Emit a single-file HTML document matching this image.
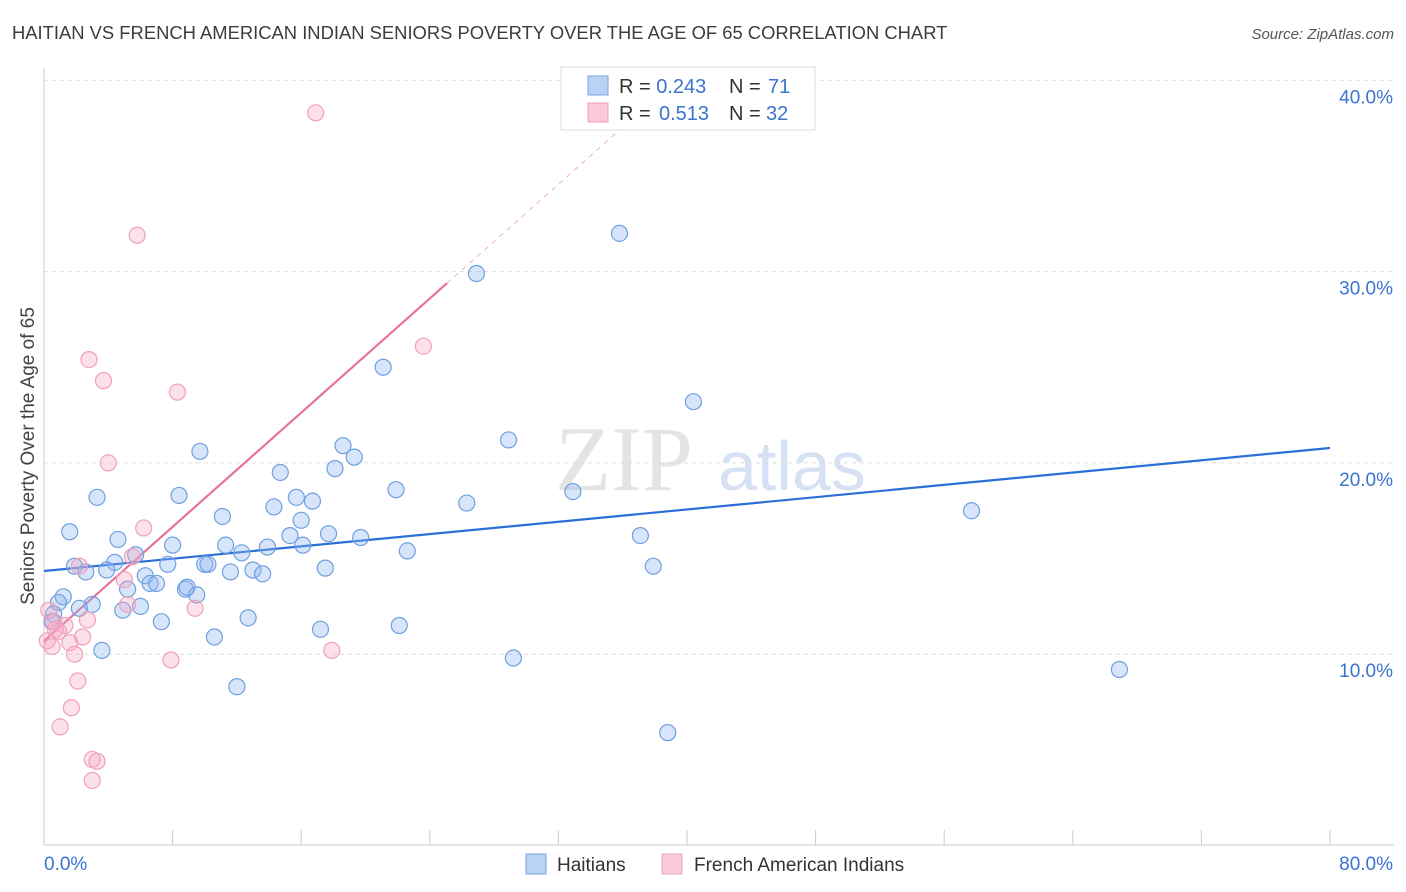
<!DOCTYPE html>
<html><head><meta charset="utf-8"><style>
body{margin:0;background:#fff;font-family:"Liberation Sans",sans-serif;}
svg{display:block}
</style></head><body>
<svg id="chart" width="1406" height="892" xmlns="http://www.w3.org/2000/svg">
<text x="12" y="39" font-size="18.4" fill="#3c3c3c">HAITIAN VS FRENCH AMERICAN INDIAN SENIORS POVERTY OVER THE AGE OF 65 CORRELATION CHART</text>
<text x="1394" y="39" font-size="15" font-style="italic" fill="#555" text-anchor="end">Source: ZipAtlas.com</text>
<g><text x="555" y="490" font-size="92" font-family="Liberation Serif,serif" fill="#e4e4e4">ZIP</text><text x="718" y="490" font-size="70" fill="#d6e2f4">atlas</text></g>
<g id="grid"></g><g id="axes"></g><g id="lines"></g><g id="pts"></g>
<text transform="translate(34,456) rotate(-90)" font-size="19" fill="#444" text-anchor="middle">Seniors Poverty Over the Age of 65</text>
<g>
<rect x="561" y="67" width="254" height="63" fill="#fff" stroke="#ddd"/>
<rect x="588" y="76" width="20" height="19" fill="#b9d3f5" stroke="#7aa6e4"/>
<rect x="588" y="103" width="20" height="19" fill="#fac8d7" stroke="#f0a0bb"/>
<text x="619" y="93" font-size="20" fill="#333">R = <tspan fill="#3a73d0">0.243</tspan><tspan x="729">N = </tspan><tspan x="768" fill="#3a73d0">71</tspan></text>
<text x="619" y="120" font-size="20" fill="#333">R = <tspan x="659" fill="#3a73d0">0.513</tspan><tspan x="729">N = </tspan><tspan x="766" fill="#3a73d0">32</tspan></text>
</g>
<g>
<rect x="526" y="854" width="20" height="20" fill="#b9d3f5" stroke="#7aa6e4"/>
<text x="557" y="871" font-size="19" fill="#333">Haitians</text>
<rect x="662" y="854" width="20" height="20" fill="#fac8d7" stroke="#f0a0bb"/>
<text x="694" y="871" font-size="19" fill="#333">French American Indians</text>
</g>
</svg>
<script>
const yTicks=[10,20,30,40];
const xTickLabels=["0.0%","80.0%"];
const blueX=[35.8,26.9,21.1,40.4,28.9,9.7,18.6,19.3,18.1,14.7,21.9,8.4,3.3,15.7,16.7,26.3,32.9,57.7,14.3,11.1,16.0,1.6,17.7,15.3,19.7,37.1,4.6,11.3,16.1,8.0,13.9,12.3,5.7,22.6,4.4,7.7,10.0,10.2,1.9,2.6,3.9,6.3,11.6,13.0,13.6,17.5,37.9,6.6,7.0,8.8,8.9,9.5,5.2,1.2,0.9,3.0,2.2,6.0,4.9,12.7,0.6,7.3,17.2,22.1,10.6,3.6,29.2,66.9,12.0,38.8,0.5];
const blueY=[32.0,29.9,25.0,23.2,21.2,20.6,20.9,20.3,19.7,19.5,18.6,18.3,18.2,18.2,18.0,17.9,18.5,17.5,17.7,17.2,17.0,16.4,16.3,16.2,16.1,16.2,16.0,15.7,15.7,15.7,15.6,15.3,15.2,15.4,14.8,14.7,14.7,14.7,14.6,14.3,14.4,14.1,14.3,14.4,14.2,14.5,14.6,13.7,13.7,13.4,13.5,13.1,13.4,13.0,12.7,12.6,12.4,12.5,12.3,11.9,12.1,11.7,11.3,11.5,10.9,10.2,9.8,9.2,8.3,5.9,11.7];
const pinkX=[16.9,5.8,23.6,2.8,3.7,8.3,4.0,6.2,5.5,2.2,5.0,5.2,9.4,0.3,2.7,0.6,1.3,0.9,2.4,0.2,1.6,0.5,1.9,7.9,17.9,2.1,1.7,1.0,3.0,3.3,3.0,0.7];
const pinkY=[38.3,31.9,26.1,25.4,24.3,23.7,20.0,16.6,15.1,14.6,13.9,12.6,12.4,12.3,11.8,11.7,11.5,11.2,10.9,10.7,10.6,10.4,10.0,9.7,10.2,8.6,7.2,6.2,4.5,4.4,3.4,11.3];
const blueFit=[14.35,20.78];
const pinkFit=[10.69,0.746];
const NS="http://www.w3.org/2000/svg";
const X=v=>44+v*16.075, Y=v=>845.5-v*19.13;
function mk(tag,attrs,parent){const e=document.createElementNS(NS,tag);for(const k in attrs)e.setAttribute(k,attrs[k]);document.getElementById(parent).appendChild(e);return e;}
yTicks.forEach(t=>{
 const g=mk('line',{x1:44,x2:1394,y1:Y(t),y2:Y(t),stroke:'#ddd','stroke-dasharray':'4,4'},'grid');
 
 
 const l=mk('text',{x:1393,y:Y(t)+23,'font-size':19,fill:'#3a73d0','text-anchor':'end'},'grid');l.textContent=t.toFixed(1)+'%';
 
 
});
mk('line',{x1:44,x2:44,y1:68,y2:845,stroke:'#ccc'},'axes');
mk('line',{x1:44,x2:1394,y1:845,y2:845,stroke:'#ccc'},'axes');
for(let i=0;i<=10;i++){const t=mk('line',{x1:X(i*8),x2:X(i*8),y1:830,y2:845,stroke:'#ccc'},'axes');
 
 }
const a=mk('text',{x:44,y:870,'font-size':19,fill:'#3a73d0'},'axes');a.textContent=xTickLabels[0];


const b=mk('text',{x:1393,y:870,'font-size':19,fill:'#3a73d0','text-anchor':'end'},'axes');b.textContent=xTickLabels[1];


function pt(xs,ys,fill,stroke,name){xs.forEach((x,i)=>{const c=mk('circle',{cx:X(x),cy:Y(ys[i]),r:8,fill:fill,stroke:stroke,'stroke-width':1.2},'pts');
 
 });}
pt(blueX,blueY,'rgba(140,180,240,0.35)','#6f9fe0','haitian-point');
pt(pinkX,pinkY,'rgba(245,165,195,0.35)','#f0a0bb','french-american-indian-point');
const bl=mk('line',{x1:X(0),y1:Y(blueFit[0]),x2:X(80),y2:Y(blueFit[1]),stroke:'#2a6fd6','stroke-width':2.2},'lines');


const pe=25.07;
const pl=mk('line',{x1:X(0),y1:Y(pinkFit[0]),x2:X(pe),y2:Y(pinkFit[0]+pinkFit[1]*pe),stroke:'#e8709a','stroke-width':2.2},'lines');


const pd=mk('line',{x1:X(pe),y1:Y(pinkFit[0]+pinkFit[1]*pe),x2:X(37.4),y2:Y(pinkFit[0]+pinkFit[1]*37.4),stroke:'#f0b0c5','stroke-width':1,'stroke-dasharray':'5,5'},'lines');


</script>
</body></html>
